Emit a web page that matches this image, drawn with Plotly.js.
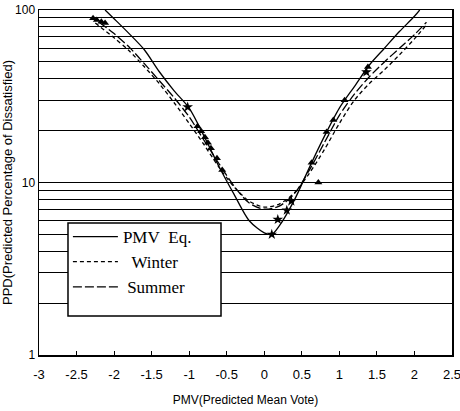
<!DOCTYPE html>
<html>
<head>
<meta charset="utf-8">
<script src="https://cdn.plot.ly/plotly-3.0.1.min.js"></script>
<style>html,body{margin:0;padding:0;background:#fff;}#chart{width:460px;height:411px;}</style>
</head>
<body>
<div id="chart"></div>
<script>
// PMV equation curve
var pmvX = [-2.12,-2.0,-1.8,-1.6,-1.4,-1.2,-1.0,-0.8,-0.6,-0.4,-0.2,0,0.1,0.2,0.4,0.6,0.8,1.0,1.2,1.4,1.6,1.8,2.0,2.07];
var pmvY = [100,89,73,59,44,34,27,18.5,12.3,8.5,6.0,5.1,5.0,5.6,7.9,12.2,18.5,27,36,48,60,75,92,100];
// Winter curve
var winterX = [-2.25,-2.0,-1.8,-1.6,-1.4,-1.2,-1.0,-0.8,-0.6,-0.4,-0.2,0,0.2,0.4,0.6,0.8,1.0,1.2,1.4,1.6,1.8,2.0,2.16];
var winterY = [84,69,58,47,37.5,29,22,16.5,12.2,9.4,7.8,7.2,7.5,8.7,11.3,15.5,22,30,37.5,45,55,68,82];
// Summer curve
var summerX = [-2.2,-2.0,-1.8,-1.6,-1.4,-1.2,-1.0,-0.8,-0.6,-0.4,-0.2,0,0.2,0.4,0.6,0.8,1.0,1.2,1.4,1.6,1.8,2.0,2.16];
var summerY = [85,73,61,49,39,31,24,17.5,12.8,9.5,7.6,7.0,7.3,8.6,11.8,17,24.5,32.5,41,50,60,72,85];
// Measured points
var triX = [-2.28,-2.23,-2.17,-2.12,-0.89,-0.84,-0.79,-0.75,-0.71,-0.63,-0.56,0.63,0.72,0.83,0.92,1.07,1.38];
var triY = [89.5,87.5,85.5,84,21.2,19.8,18.3,17,15.8,13.8,11.8,13,10,19.6,23,30,46.7];
var starX = [-1.02,0.1,0.18,0.3,0.36,1.36];
var starY = [27.4,5.0,6.1,6.9,7.8,43.7];

var xTicks = [-3,-2.5,-2,-1.5,-1,-0.5,0,0.5,1,1.5,2,2.5];
var xTickText = ["-3","-2.5","-2","-1.5","-1","-0.5","0","0.5","1","1.5","2","2.5"];
var yTicks = [1,10,100];
var yTickText = ["1","10","100"];
var yGrid = [2,3,4,5,6,7,8,9,20,30,40,50,60,70,80,90];
var legendNames = ["PMV\u00a0\u00a0Eq.", "\u00a0\u00a0Winter", "\u00a0Summer"];

var lineStyle = {color:'#000', width:1.3, shape:'spline', smoothing:0.8};
var traces = [
  {x:pmvX, y:pmvY, mode:'lines', name:legendNames[0], line:Object.assign({}, lineStyle, {dash:'solid'})},
  {x:winterX, y:winterY, mode:'lines', name:legendNames[1], line:Object.assign({}, lineStyle, {dash:'4px,3px'})},
  {x:summerX, y:summerY, mode:'lines', name:legendNames[2], line:Object.assign({}, lineStyle, {dash:'9px,3px'})},
  {x:triX, y:triY, mode:'markers', showlegend:false, marker:{symbol:'triangle-up', size:7, color:'#000'}},
  {x:starX, y:starY, mode:'markers', showlegend:false, marker:{symbol:'star', size:8, color:'#000'}}
];

var layout = {
  width:460, height:411,
  margin:{l:39, r:8, t:10, b:56},
  paper_bgcolor:'#fff', plot_bgcolor:'#fff',
  font:{family:'Liberation Sans, Arial, sans-serif', color:'#000', size:12},
  showlegend:true,
  legend:{x:0.07, y:0.394, xanchor:'left', yanchor:'top', bgcolor:'rgba(0,0,0,0)', borderwidth:0,
          font:{family:'Liberation Serif, Times New Roman, serif', size:17, color:'#000'}, itemwidth:45},
  shapes:[{type:'rect', xref:'paper', yref:'paper', x0:0.0702, x1:0.4407, y0:0.113, y1:0.3826,
           fillcolor:'#fff', line:{color:'#000', width:1.5}, layer:'above'}],
  xaxis:{range:[-3,2.5], tickmode:'array', tickvals:xTicks, ticktext:xTickText, ticks:'inside', ticklen:4,
         tickcolor:'#000', showgrid:false, zeroline:false, showline:true, linecolor:'#000', linewidth:1.5, mirror:true,
         ticklabeloverflow:'allow', ticklabelstandoff:7,
         tickfont:{family:'Liberation Sans Narrow, Liberation Sans, Arial, sans-serif', size:13},
         title:{text:'PMV(Predicted Mean Vote)', standoff:14, font:{family:'Liberation Sans Narrow, Liberation Sans, Arial, sans-serif', size:12}}},
  yaxis:{type:'log', range:[0,2], tickmode:'array', tickvals:yTicks, ticktext:yTickText, ticks:'',
         showgrid:true, gridcolor:'#000', gridwidth:1, zeroline:false, showline:true, linecolor:'#000', linewidth:1.5, mirror:true,
         minor:{tickmode:'array', tickvals:yGrid, showgrid:true, gridcolor:'#000', gridwidth:1, ticks:''},
         tickfont:{family:'Liberation Sans Narrow, Liberation Sans, Arial, sans-serif', size:12},
         title:{text:'PPD(Predicted Percentage of Dissatisfied)', standoff:6, font:{family:'Liberation Sans, Arial, sans-serif', size:13}}}
};

Plotly.newPlot('chart', traces, layout, {displayModeBar:false, staticPlot:true});
</script>
</body>
</html>
